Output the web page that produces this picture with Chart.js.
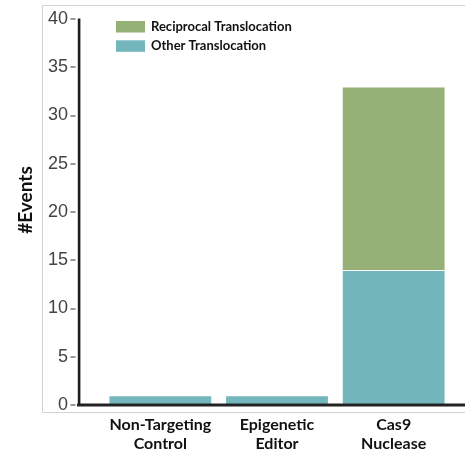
<!DOCTYPE html>
<html>
<head>
<meta charset="utf-8">
<script src="https://cdn.jsdelivr.net/npm/chart.js@4/dist/chart.umd.min.js"></script>
<style>
  html, body { margin: 0; padding: 0; background: #ffffff; }
  canvas { display: block; }
</style>
</head>
<body>
<canvas id="c" width="465" height="451"></canvas>
<script>
// Translocation events per condition
const categories = [['Non-Targeting', 'Control'], ['Epigenetic', 'Editor'], ['Cas9', 'Nuclease']];
const otherTranslocation = [1, 1, 14];
const reciprocalTranslocation = [0, 0, 19];
const seriesNames = ['Reciprocal Translocation', 'Other Translocation'];
const yTickValues = [0, 5, 10, 15, 20, 25, 30, 35, 40];
const yAxisTitle = '#Events';

const GREEN = '#96b177';
const TEAL = '#73b6bc';

// Frame, axis lines, tick marks, legend and axis title
const decorations = {
  id: 'decorations',
  afterDraw(chart) {
    const ctx = chart.ctx;
    const y = chart.scales.y;
    const y0 = y.getPixelForValue(0);
    const yTop = y.getPixelForValue(yTickValues[yTickValues.length - 1]);
    ctx.save();

    // light outer frame
    ctx.strokeStyle = '#d2d2d2';
    ctx.lineWidth = 1;
    ctx.beginPath();
    ctx.moveTo(470, 5.5);
    ctx.lineTo(42.5, 5.5);
    ctx.lineTo(42.5, 412.5);
    ctx.lineTo(470, 412.5);
    ctx.stroke();

    // tick marks
    ctx.fillStyle = '#555';
    for (const v of yTickValues) {
      const py = Math.round(y.getPixelForValue(v));
      ctx.fillRect(70.5, py - 0.6, 5, 1.2);
    }

    // y axis line
    ctx.fillStyle = '#1c1c1c';
    ctx.fillRect(77.8, yTop - 0.5, 2.6, y0 - yTop + 0.5);

    // x axis line
    ctx.fillStyle = '#222';
    ctx.fillRect(77, y0 - 1.5, 388, 3);

    // legend
    const items = [
      { label: seriesNames[0], color: chart.data.datasets[1].backgroundColor },
      { label: seriesNames[1], color: chart.data.datasets[0].backgroundColor }
    ];
    ctx.font = 'bold 13px Lato, "Open Sans", sans-serif';
    ctx.textBaseline = 'middle';
    ctx.textAlign = 'left';
    items.forEach((it, i) => {
      const top = 21 + i * 19.3;
      ctx.fillStyle = it.color;
      ctx.fillRect(116, top, 29, 11.5);
      ctx.fillStyle = '#111';
      ctx.fillText(it.label, 151, top + 6);
    });

    // y axis title
    ctx.translate(26, 200);
    ctx.rotate(-Math.PI / 2);
    ctx.textAlign = 'center';
    ctx.textBaseline = 'middle';
    ctx.font = 'bold 19px Lato, "Open Sans", sans-serif';
    ctx.fillStyle = '#111';
    ctx.fillText(yAxisTitle, 0, 0);

    ctx.restore();
  }
};

new Chart(document.getElementById('c'), {
  type: 'bar',
  data: {
    labels: categories,
    datasets: [
      {
        label: seriesNames[1],
        data: otherTranslocation,
        backgroundColor: TEAL,
        borderColor: 'rgba(255,255,255,0.6)',
        borderWidth: 1,
        stack: 's'
      },
      {
        label: seriesNames[0],
        data: reciprocalTranslocation,
        backgroundColor: GREEN,
        borderColor: 'rgba(255,255,255,0.6)',
        borderWidth: 1,
        stack: 's'
      }
    ]
  },
  options: {
    responsive: false,
    animation: false,
    layout: { padding: { top: 19, right: 13, left: 0, bottom: 0 } },
    categoryPercentage: 1,
    barPercentage: 0.89,
    plugins: {
      legend: { display: false },
      tooltip: { enabled: false }
    },
    scales: {
      x: {
        stacked: true,
        grid: { display: false, drawTicks: false },
        border: { display: false },
        ticks: {
          color: '#111',
          padding: 10,
          maxRotation: 0,
          font: { family: 'Lato, "Open Sans", sans-serif', size: 16, weight: 'bold', lineHeight: 1.2 }
        },
        afterFit(scale) { scale.height = 46; scale.paddingLeft = 0; scale.paddingRight = 0; }
      },
      y: {
        stacked: true,
        min: 0,
        max: 40,
        grid: { display: false, drawTicks: false },
        border: { display: false },
        ticks: {
          stepSize: 5,
          padding: 34,
          color: '#444',
          font: { family: '"Liberation Sans", Arial, sans-serif', size: 18 }
        },
        afterFit(scale) { scale.width = 102; scale.paddingTop = 0; scale.paddingBottom = 0; }
      }
    }
  },
  plugins: [decorations]
});
</script>
</body>
</html>
